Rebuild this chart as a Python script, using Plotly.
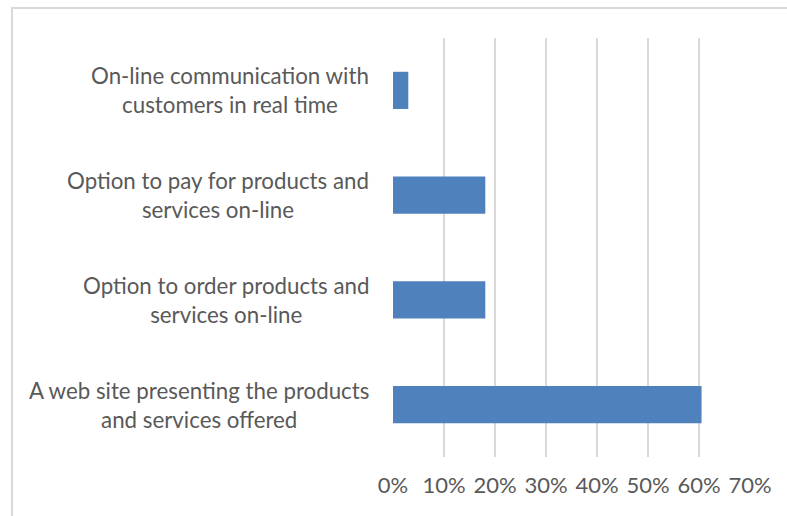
import plotly.graph_objects as go

# Website features offered by enterprises (share of respondents)
categories = [
    "A web site presenting the products<br>and services offered",
    "Option to order products and<br>services on-line",
    "Option to pay for products and<br>services on-line",
    "On-line communication with<br>customers in real time",
]
shares = [0.605, 0.181, 0.181, 0.030]
tick_values = [0, 0.1, 0.2, 0.3, 0.4, 0.5, 0.6, 0.7]

FONT = "Lato"
TEXT_COLOR = "#595959"
GRID_COLOR = "#d9d9d9"

fig = go.Figure(
    go.Bar(
        x=shares,
        y=categories,
        orientation="h",
        marker=dict(color="#4f81bd", line=dict(width=0)),
        width=0.355,
        hoverinfo="x+y",
    )
)

# category labels, centred line by line to the left of the axis
for cat in categories:
    fig.add_annotation(
        x=0, xref="paper", y=cat, yref="y",
        text=cat, showarrow=False,
        xanchor="right", yanchor="middle", align="center",
        xshift=-22,
        font=dict(family=FONT, size=22.3, color=TEXT_COLOR),
    )

# chart frame
fig.add_shape(
    type="rect", xref="paper", yref="paper",
    x0=(12 - 393) / 357, x1=1.3, y0=-0.3, y1=1 + 30 / 419,
    line=dict(color=GRID_COLOR, width=2), fillcolor="rgba(0,0,0,0)",
    layer="below",
)

fig.update_layout(
    width=787, height=516,
    margin=dict(l=393, r=37, t=38, b=59),
    paper_bgcolor="white", plot_bgcolor="white",
    showlegend=False,
    font=dict(family=FONT, color=TEXT_COLOR),
    xaxis=dict(
        range=[0, 0.7], tickvals=tick_values, tickformat=".0%",
        showgrid=True, gridcolor=GRID_COLOR, gridwidth=1.6,
        zeroline=False, showline=False, ticks="",
        ticklabelstandoff=13,
        tickfont=dict(family=FONT, size=22, color=TEXT_COLOR),
        fixedrange=True,
    ),
    yaxis=dict(
        categoryorder="array", categoryarray=categories,
        showticklabels=False, showgrid=False, zeroline=False,
        showline=False, ticks="", fixedrange=True,
    ),
)

fig.write_html("out.html")
